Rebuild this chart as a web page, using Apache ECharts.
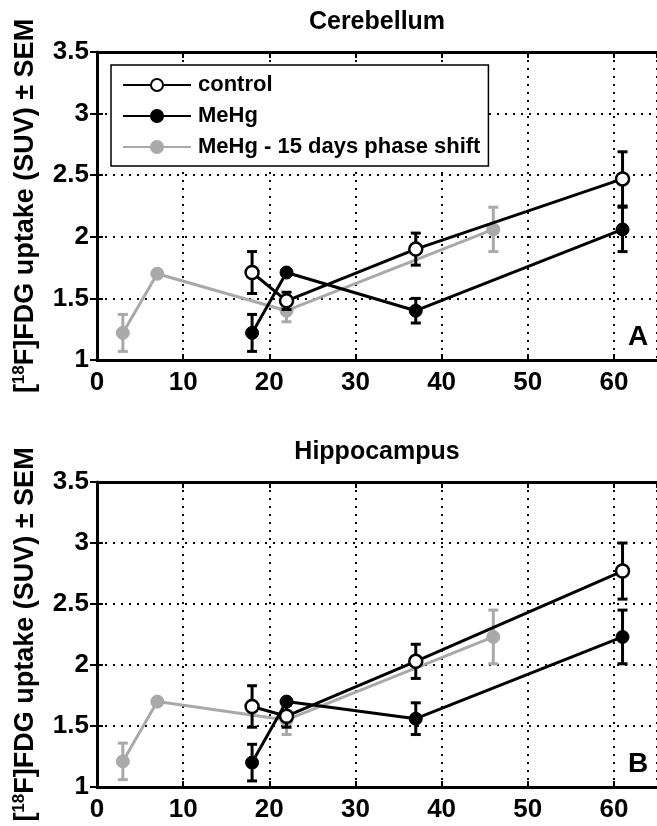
<!DOCTYPE html>
<html>
<head>
<meta charset="utf-8">
<script src="https://cdn.jsdelivr.net/npm/echarts@6/dist/echarts.min.js"></script>
<style>
html,body{margin:0;padding:0;background:#fff;}
#c{width:657px;height:826px;}
</style>
</head>
<body>
<div id="c"></div>
<script>
// ---- data ----
var daysMain = [18, 22, 37, 61];
var daysShift = [3, 7, 22, 46];
var xTicks = [0, 10, 20, 30, 40, 50, 60];
var yTicks = [1, 1.5, 2, 2.5, 3, 3.5];

// Cerebellum (panel A)
var cbControl = [1.71, 1.48, 1.90, 2.47];
var cbControlSem = [0.17, 0.07, 0.13, 0.22];
var cbMehg = [1.22, 1.71, 1.40, 2.06];
var cbMehgSem = [0.15, 0.02, 0.10, 0.18];
var cbShift = [1.22, 1.70, 1.40, 2.06];
var cbShiftSem = [0.15, 0.02, 0.09, 0.18];

// Hippocampus (panel B)
var hcControl = [1.66, 1.58, 2.03, 2.77];
var hcControlSem = [0.17, 0.09, 0.14, 0.23];
var hcMehg = [1.20, 1.70, 1.56, 2.23];
var hcMehgSem = [0.15, 0.02, 0.13, 0.22];
var hcShift = [1.21, 1.70, 1.55, 2.23];
var hcShiftSem = [0.15, 0.02, 0.12, 0.22];

var titles = ['Cerebellum', 'Hippocampus'];
var panelLetters = ['A', 'B'];
var names = ['control', 'MeHg', 'MeHg - 15 days phase shift'];

// ---- style ----
var FONT = 'Liberation Sans';
var GRAY = '#a9a9a9';
var BLACK = '#000';

var grids = [
  {left: 97, top: 52, width: 563, height: 308},
  {left: 97, top: 482, width: 563, height: 305}
];

function pairs(xs, ys) { return xs.map(function (x, i) { return [x, ys[i]]; }); }
function errData(xs, ys, es) { return xs.map(function (x, i) { return [x, ys[i] - es[i], ys[i] + es[i]]; }); }

function errSeries(gi, data, color) {
  return {
    type: 'custom', xAxisIndex: gi * 2, yAxisIndex: gi * 2, z: 3,
    silent: true, clip: false,
    encode: {x: 0, y: [1, 2]},
    data: data,
    renderItem: function (params, api) {
      var x = api.value(0);
      var lo = api.coord([x, api.value(1)]);
      var hi = api.coord([x, api.value(2)]);
      var hw = 5;
      var st = {stroke: color, lineWidth: 3};
      return {type: 'group', children: [
        {type: 'line', shape: {x1: lo[0], y1: lo[1], x2: hi[0], y2: hi[1]}, style: st},
        {type: 'line', shape: {x1: lo[0] - hw, y1: lo[1], x2: lo[0] + hw, y2: lo[1]}, style: st},
        {type: 'line', shape: {x1: hi[0] - hw, y1: hi[1], x2: hi[0] + hw, y2: hi[1]}, style: st}
      ]};
    }
  };
}

function lineSeries(gi, name, data, kind) {
  var s = {
    type: 'line', name: name, xAxisIndex: gi * 2, yAxisIndex: gi * 2,
    data: data, symbol: 'circle', symbolSize: 13, z: 4,
    animation: false
  };
  if (kind === 'control') {
    s.lineStyle = {color: BLACK, width: 3};
    s.itemStyle = {color: '#fff', borderColor: BLACK, borderWidth: 2.5};
  } else if (kind === 'mehg') {
    s.lineStyle = {color: BLACK, width: 3};
    s.itemStyle = {color: BLACK, borderColor: BLACK, borderWidth: 1};
  } else {
    s.lineStyle = {color: GRAY, width: 3};
    s.itemStyle = {color: GRAY, borderColor: GRAY, borderWidth: 1};
    s.z = 2;
  }
  return s;
}

var xAxes = [], yAxes = [], series = [], graphics = [];
var panels = [
  {c: cbControl, cs: cbControlSem, m: cbMehg, ms: cbMehgSem, s: cbShift, ss: cbShiftSem},
  {c: hcControl, cs: hcControlSem, m: hcMehg, ms: hcMehgSem, s: hcShift, ss: hcShiftSem}
];

var yName = '{b|[}{sup|18}{b|F]FDG uptake (SUV) \u00b1 SEM}';

panels.forEach(function (p, gi) {
  xAxes.push({
    gridIndex: gi, type: 'value', min: 0, max: 65, interval: 10,
    axisLine: {show: true, lineStyle: {color: BLACK, width: 3}},
    axisTick: {show: true, inside: true, length: 6, lineStyle: {color: BLACK, width: 2}},
    axisLabel: {show: true, showMaxLabel: false, margin: 10, color: BLACK,
      fontFamily: FONT, fontWeight: 'bold', fontSize: 26,
      formatter: function (v) { return xTicks.indexOf(v) >= 0 ? String(v) : ''; }},
    splitLine: {show: true, lineStyle: {color: BLACK, width: 2, type: [2, 6]}}
  });
  xAxes.push({
    gridIndex: gi, type: 'value', min: 0, max: 65, interval: 10, position: 'top',
    axisLine: {show: true, onZero: false, lineStyle: {color: BLACK, width: 3}},
    axisTick: {show: true, inside: true, length: 6, lineStyle: {color: BLACK, width: 2}},
    axisLabel: {show: false}, splitLine: {show: false}
  });
  yAxes.push({
    gridIndex: gi, type: 'value', min: 1, max: 3.5, interval: 0.5,
    axisLine: {show: true, lineStyle: {color: BLACK, width: 3}},
    axisTick: {show: true, inside: true, length: 6, lineStyle: {color: BLACK, width: 2}},
    axisLabel: {show: true, margin: 8, color: BLACK, fontFamily: FONT, fontWeight: 'bold', fontSize: 26,
      formatter: function (v) { return yTicks.indexOf(v) >= 0 ? String(v) : ''; }},
    splitLine: {show: true, lineStyle: {color: BLACK, width: 2, type: [2, 6]}},
    name: yName, nameLocation: 'middle', nameRotate: 90, nameGap: 57,
    nameTextStyle: {
      color: BLACK,
      rich: {
        b: {fontFamily: FONT, fontWeight: 'bold', fontSize: 27, color: BLACK, lineHeight: 29},
        sup: {fontFamily: FONT, fontWeight: 'bold', fontSize: 17, color: BLACK, lineHeight: 29, verticalAlign: 'top', padding: [0, 0, 10, 0]}
      }
    }
  });
  yAxes.push({
    gridIndex: gi, type: 'value', min: 1, max: 3.5, interval: 0.5, position: 'right',
    axisLine: {show: false},
    axisTick: {show: true, inside: true, length: 7, lineStyle: {color: BLACK, width: 2}},
    axisLabel: {show: false}, splitLine: {show: false}
  });

  series.push(lineSeries(gi, names[2], pairs(daysShift, p.s), 'shift'));
  series.push(errSeries(gi, errData(daysShift, p.s, p.ss), GRAY));
  series.push(lineSeries(gi, names[0], pairs(daysMain, p.c), 'control'));
  series.push(errSeries(gi, errData(daysMain, p.c, p.cs), BLACK));
  series.push(lineSeries(gi, names[1], pairs(daysMain, p.m), 'mehg'));
  series.push(errSeries(gi, errData(daysMain, p.m, p.ms), BLACK));

  var g = grids[gi];
  graphics.push({
    type: 'text', x: 377, y: g.top - 30,
    style: {text: titles[gi], fontFamily: FONT, fontWeight: 'bold', fontSize: 25, fill: BLACK,
      textAlign: 'center', textVerticalAlign: 'middle'}
  });
  graphics.push({
    type: 'text', x: 638, y: g.top + g.height - 23,
    style: {text: panelLetters[gi], fontFamily: FONT, fontWeight: 'bold', fontSize: 28, fill: BLACK,
      textAlign: 'center', textVerticalAlign: 'middle'}
  });
});

var chart = echarts.init(document.getElementById('c'), null, {renderer: 'canvas'});
chart.setOption({
  animation: false,
  backgroundColor: '#fff',
  grid: grids,
  xAxis: xAxes,
  yAxis: yAxes,
  legend: {
    data: names, orient: 'vertical', left: 111, top: 65,
    itemWidth: 68, itemHeight: 15, itemGap: 9,
    padding: [9, 8, 8, 11],
    borderColor: BLACK, borderWidth: 1.5, backgroundColor: '#fff',
    selectedMode: false,
    textStyle: {fontFamily: FONT, fontWeight: 'bold', fontSize: 22, color: BLACK, lineHeight: 22, padding: [0, 0, 0, 2]}
  },
  graphic: graphics,
  series: series
});
</script>
</body>
</html>
